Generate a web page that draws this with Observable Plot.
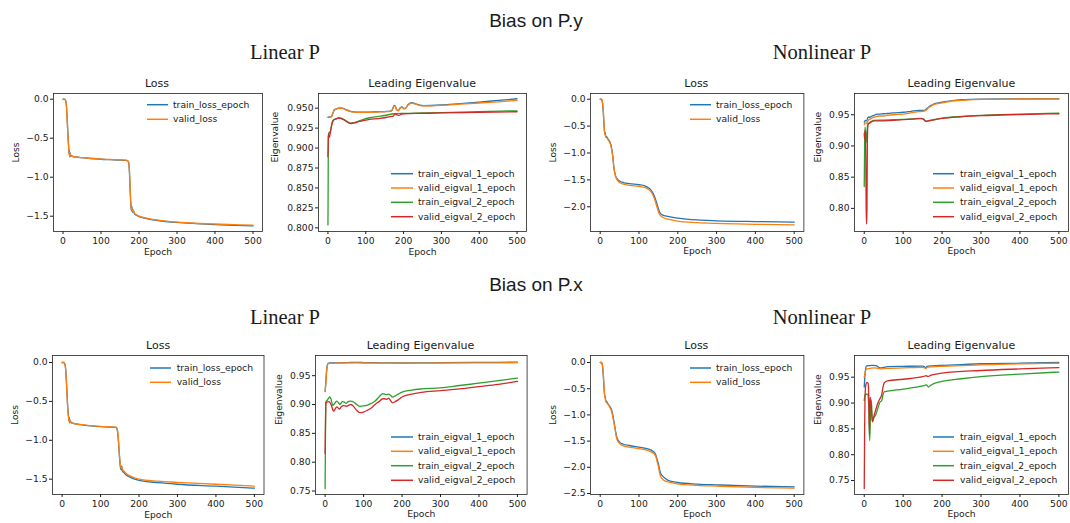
<!DOCTYPE html>
<html><head><meta charset="utf-8">
<script src="https://cdn.jsdelivr.net/npm/d3@7"></script>
<script src="https://cdn.jsdelivr.net/npm/@observablehq/plot@0.6"></script>
<style>
body{margin:0;background:#fff;}
#root{position:relative;width:1070px;height:523px;overflow:hidden;font-family:"DejaVu Sans",sans-serif;color:#1a1a1a;}
.abs{position:absolute;white-space:nowrap;}
.ctr{transform:translate(-50%,-50%);line-height:1;}
.main{font-family:"Liberation Sans",Arial,sans-serif;font-size:19px;}
.sub{font-family:"Liberation Serif",serif;font-size:20.5px;}
.ptitle{font-size:11px;}
.leg{font-size:9.2px;line-height:1;}
</style></head>
<body><div id="root"></div>
<script>
// ---------- data ----------
const xTicks = [0, 100, 200, 300, 400, 500];
const lossLegend = ["train_loss_epoch", "valid_loss"];
const eigLegend = ["train_eigval_1_epoch", "valid_eigval_1_epoch", "train_eigval_2_epoch", "valid_eigval_2_epoch"];
const colors = ["#1f77b4", "#ff7f0e", "#2ca02c", "#d62728"];

// Bias on P.y — Linear P — Loss
const p1Train = [[0,0],[4,0],[7,-0.02],[9,-0.08],[11,-0.25],[13,-0.45],[15,-0.62],[16,-0.7],[17,-0.66],[18,-0.74],[19,-0.69],[20,-0.73],[22,-0.72],[26,-0.735],[35,-0.74],[50,-0.75],[75,-0.76],[100,-0.77],[125,-0.775],[150,-0.78],[165,-0.785],[170,-0.79],[173,-0.82],[175,-0.95],[177,-1.2],[179,-1.38],[180,-1.43],[181,-1.37],[183,-1.45],[185,-1.42],[188,-1.47],[194,-1.49],[200,-1.505],[220,-1.53],[250,-1.555],[300,-1.58],[350,-1.595],[400,-1.607],[450,-1.617],[500,-1.625]];
const p1Valid = [[0,0],[4,0],[7,-0.02],[9,-0.09],[11,-0.27],[13,-0.47],[15,-0.63],[16,-0.71],[17,-0.68],[18,-0.73],[19,-0.7],[20,-0.72],[22,-0.73],[26,-0.735],[35,-0.74],[50,-0.75],[75,-0.76],[100,-0.768],[125,-0.773],[150,-0.778],[165,-0.782],[170,-0.788],[173,-0.81],[175,-0.93],[177,-1.18],[179,-1.36],[180,-1.42],[181,-1.39],[183,-1.44],[185,-1.43],[188,-1.46],[194,-1.485],[200,-1.5],[220,-1.525],[250,-1.55],[300,-1.575],[350,-1.59],[400,-1.6],[450,-1.608],[500,-1.615]];
const p1YTicks = [0, -0.5, -1, -1.5];

// Bias on P.y — Linear P — Leading Eigenvalue
const p2Train1 = [[0,0.9387],[5,0.939],[9,0.9395],[13,0.944],[17,0.948],[22,0.949],[30,0.9505],[38,0.95],[48,0.948],[60,0.946],[75,0.945],[100,0.945],[130,0.9455],[150,0.9458],[165,0.9462],[170,0.948],[175,0.9535],[178,0.9525],[182,0.948],[186,0.947],[191,0.9505],[196,0.9515],[201,0.9495],[205,0.95],[212,0.9545],[222,0.9568],[232,0.9555],[243,0.9538],[253,0.9532],[300,0.954],[350,0.9558],[400,0.9576],[450,0.9597],[500,0.9618]];
const p2Valid1 = [[0,0.9385],[5,0.9388],[9,0.9393],[13,0.9435],[17,0.9475],[22,0.9488],[30,0.9502],[38,0.9498],[48,0.9478],[60,0.9458],[75,0.9448],[100,0.9448],[130,0.9452],[150,0.9455],[165,0.946],[170,0.9478],[175,0.953],[178,0.952],[182,0.9478],[186,0.9468],[191,0.95],[196,0.951],[201,0.9492],[205,0.9498],[212,0.954],[222,0.9563],[232,0.955],[243,0.9533],[253,0.9528],[300,0.9535],[350,0.955],[400,0.9565],[450,0.958],[500,0.9597]];
const p2Train2 = [[0,0.8037],[0.5,0.85],[1,0.915],[3,0.92],[5,0.919],[8,0.925],[11,0.932],[15,0.9355],[22,0.937],[28,0.938],[35,0.9375],[45,0.935],[55,0.932],[61,0.9312],[70,0.932],[80,0.9335],[94,0.936],[110,0.938],[130,0.9395],[150,0.9408],[175,0.943],[200,0.9435],[250,0.944],[300,0.9445],[400,0.9457],[500,0.9467]];
const p2Valid2 = [[0,0.889],[1,0.912],[2,0.917],[3,0.913],[5,0.916],[8,0.924],[11,0.931],[15,0.935],[22,0.9365],[28,0.9375],[35,0.937],[45,0.9345],[55,0.9315],[61,0.9308],[70,0.9315],[80,0.933],[94,0.9345],[110,0.936],[130,0.937],[150,0.938],[165,0.9395],[172,0.94],[178,0.9428],[182,0.9415],[187,0.941],[195,0.9425],[200,0.943],[250,0.9435],[300,0.944],[400,0.9447],[500,0.9455]];
const p2YTicks = [0.8, 0.825, 0.85, 0.875, 0.9, 0.925, 0.95];

// Bias on P.y — Nonlinear P — Loss
const p3Train = [[0,0],[3,0],[5,-0.03],[8,-0.25],[10,-0.5],[11,-0.6],[12,-0.64],[13,-0.62],[14,-0.68],[17,-0.7],[20,-0.735],[24,-0.78],[28,-0.86],[31,-0.98],[33,-1.1],[35,-1.26],[38,-1.38],[41,-1.45],[45,-1.49],[50,-1.52],[60,-1.55],[75,-1.57],[100,-1.59],[115,-1.61],[125,-1.65],[132,-1.7],[137,-1.76],[142,-1.85],[147,-1.96],[151,-2.06],[155,-2.12],[160,-2.15],[175,-2.18],[200,-2.21],[250,-2.245],[300,-2.26],[400,-2.275],[500,-2.285]];
const p3Valid = [[0,0],[3,0],[5,-0.02],[8,-0.22],[10,-0.48],[11,-0.58],[12,-0.66],[13,-0.65],[14,-0.7],[17,-0.72],[20,-0.75],[24,-0.8],[28,-0.88],[31,-1.0],[33,-1.12],[36,-1.3],[39,-1.42],[42,-1.48],[46,-1.52],[50,-1.55],[60,-1.58],[75,-1.6],[100,-1.62],[115,-1.64],[125,-1.68],[132,-1.73],[137,-1.8],[142,-1.9],[147,-2.02],[151,-2.11],[155,-2.16],[160,-2.19],[175,-2.23],[200,-2.265],[250,-2.295],[300,-2.31],[400,-2.325],[500,-2.335]];
const p3YTicks = [0, -0.5, -1, -1.5, -2];

// Bias on P.y — Nonlinear P — Leading Eigenvalue
const p4Train1 = [[0,0.938],[3,0.941],[6,0.94],[10,0.946],[15,0.946],[20,0.948],[25,0.949],[30,0.9505],[40,0.951],[50,0.9516],[60,0.952],[75,0.953],[100,0.954],[120,0.9555],[140,0.957],[150,0.9568],[155,0.957],[160,0.9595],[165,0.962],[172,0.965],[180,0.9676],[190,0.969],[200,0.97],[225,0.9725],[250,0.974],[300,0.975],[400,0.9755],[500,0.9756]];
const p4Valid1 = [[0,0.934],[3,0.937],[6,0.936],[10,0.941],[15,0.943],[20,0.945],[25,0.946],[30,0.947],[40,0.948],[50,0.948],[60,0.949],[75,0.95],[100,0.951],[120,0.953],[140,0.955],[150,0.9555],[155,0.956],[160,0.958],[165,0.961],[172,0.964],[180,0.9665],[190,0.968],[200,0.969],[225,0.972],[250,0.973],[300,0.9745],[400,0.9752],[500,0.9755]];
const p4Train2 = [[0,0.835],[1,0.9],[2,0.93],[3,0.925],[5,0.92],[7,0.905],[8,0.93],[10,0.9356],[15,0.938],[25,0.941],[50,0.9414],[75,0.942],[100,0.9425],[125,0.9435],[145,0.944],[150,0.9438],[155,0.9415],[158,0.9398],[165,0.9405],[175,0.9418],[200,0.9446],[250,0.9473],[300,0.949],[400,0.951],[500,0.9526]];
const p4Valid2 = [[0,0.92],[1,0.91],[2,0.925],[3,0.915],[4,0.88],[5,0.8],[6,0.775],[7,0.8],[8,0.9],[9,0.93],[10,0.935],[15,0.937],[25,0.94],[50,0.9403],[75,0.941],[100,0.942],[125,0.943],[145,0.9438],[150,0.9435],[155,0.941],[158,0.9393],[165,0.94],[175,0.9412],[200,0.944],[250,0.9467],[300,0.9485],[400,0.9503],[500,0.9516]];
const p4YTicks = [0.8, 0.85, 0.9, 0.95];

// Bias on P.x — Linear P — Loss
const p5Train = [[0,0],[4,0],[7,-0.02],[9,-0.07],[11,-0.22],[13,-0.42],[15,-0.6],[17,-0.7],[18,-0.76],[19,-0.71],[20,-0.78],[21,-0.74],[23,-0.77],[27,-0.78],[35,-0.79],[50,-0.8],[75,-0.815],[100,-0.825],[125,-0.83],[140,-0.835],[143,-0.86],[146,-0.98],[149,-1.2],[152,-1.36],[154,-1.38],[155,-1.33],[157,-1.4],[160,-1.41],[165,-1.44],[175,-1.47],[200,-1.515],[250,-1.545],[300,-1.565],[400,-1.59],[500,-1.616]];
const p5Valid = [[0,0],[4,0],[7,-0.02],[9,-0.08],[11,-0.24],[13,-0.44],[15,-0.62],[17,-0.72],[18,-0.75],[19,-0.73],[20,-0.77],[21,-0.75],[23,-0.77],[27,-0.78],[35,-0.79],[50,-0.8],[75,-0.812],[100,-0.822],[125,-0.828],[140,-0.832],[143,-0.85],[146,-0.96],[149,-1.18],[152,-1.34],[154,-1.36],[155,-1.35],[157,-1.38],[160,-1.39],[165,-1.42],[175,-1.455],[200,-1.5],[250,-1.525],[300,-1.54],[400,-1.565],[500,-1.59]];
const p5YTicks = [0, -0.5, -1, -1.5];

// Bias on P.x — Linear P — Leading Eigenvalue
const p6Train1 = [[0,0.9228],[2,0.94],[4,0.96],[6,0.969],[8,0.9715],[12,0.9722],[20,0.9722],[40,0.9725],[60,0.9728],[80,0.973],[100,0.9728],[150,0.9722],[200,0.972],[250,0.9722],[300,0.9725],[400,0.973],[500,0.9735]];
const p6Valid1 = [[0,0.9222],[2,0.938],[4,0.958],[6,0.968],[8,0.971],[12,0.9715],[20,0.9715],[40,0.972],[60,0.9722],[80,0.9722],[100,0.972],[150,0.9718],[200,0.9717],[250,0.9718],[300,0.972],[400,0.9722],[500,0.9725]];
const p6Train2 = [[0,0.754],[1,0.86],[2,0.905],[5,0.907],[9,0.911],[12,0.913],[15,0.91],[20,0.8985],[25,0.902],[30,0.906],[35,0.903],[38,0.9],[45,0.905],[50,0.904],[55,0.902],[60,0.905],[65,0.906],[75,0.904],[82,0.9],[90,0.8968],[100,0.8975],[110,0.899],[120,0.902],[130,0.906],[140,0.913],[150,0.9188],[155,0.918],[160,0.917],[165,0.918],[170,0.916],[175,0.913],[182,0.915],[190,0.918],[200,0.9216],[225,0.925],[250,0.927],[300,0.929],[350,0.933],[400,0.937],[450,0.9415],[500,0.9459]];
const p6Valid2 = [[0,0.815],[1,0.87],[2,0.903],[5,0.904],[9,0.905],[12,0.904],[16,0.899],[22,0.8887],[26,0.892],[30,0.896],[34,0.894],[37,0.892],[42,0.896],[48,0.898],[55,0.897],[62,0.899],[67,0.9],[75,0.896],[82,0.89],[90,0.8859],[100,0.887],[110,0.89],[120,0.894],[130,0.9],[140,0.905],[150,0.91],[155,0.91],[160,0.909],[165,0.911],[170,0.907],[175,0.903],[182,0.905],[190,0.908],[200,0.913],[225,0.918],[250,0.921],[300,0.924],[350,0.927],[400,0.931],[450,0.935],[500,0.94]];
const p6YTicks = [0.75, 0.8, 0.85, 0.9, 0.95];

// Bias on P.x — Nonlinear P — Loss
const p7Train = [[0,0],[3,0],[5,-0.03],[8,-0.25],[10,-0.5],[11,-0.6],[12,-0.66],[13,-0.64],[14,-0.72],[17,-0.75],[20,-0.79],[25,-0.84],[30,-0.92],[33,-1.02],[35,-1.11],[38,-1.24],[40,-1.33],[43,-1.43],[47,-1.49],[50,-1.52],[60,-1.56],[75,-1.584],[100,-1.616],[125,-1.655],[135,-1.69],[140,-1.72],[144,-1.78],[147,-1.86],[150,-1.93],[153,-2.04],[156,-2.12],[160,-2.16],[167,-2.21],[175,-2.25],[200,-2.29],[250,-2.32],[300,-2.335],[400,-2.36],[500,-2.372]];
const p7Valid = [[0,0],[3,0],[5,-0.02],[8,-0.22],[10,-0.48],[11,-0.58],[12,-0.68],[13,-0.67],[14,-0.74],[17,-0.77],[20,-0.8],[25,-0.86],[30,-0.95],[33,-1.06],[36,-1.17],[39,-1.3],[41,-1.4],[44,-1.48],[48,-1.53],[52,-1.56],[60,-1.59],[75,-1.615],[100,-1.645],[125,-1.685],[135,-1.72],[140,-1.75],[144,-1.81],[147,-1.9],[150,-1.98],[153,-2.1],[156,-2.18],[160,-2.22],[167,-2.26],[175,-2.28],[200,-2.315],[250,-2.345],[300,-2.36],[400,-2.385],[500,-2.398]];
const p7YTicks = [0, -0.5, -1, -1.5, -2, -2.5];

// Bias on P.x — Nonlinear P — Leading Eigenvalue
const p8Train1 = [[0,0.931],[2,0.955],[4,0.968],[6,0.972],[15,0.9725],[25,0.973],[32,0.972],[38,0.969],[42,0.968],[50,0.969],[60,0.9705],[100,0.971],[150,0.9715],[155,0.97],[158,0.9675],[161,0.971],[175,0.972],[200,0.973],[250,0.9745],[300,0.976],[400,0.977],[500,0.9785]];
const p8Valid1 = [[0,0.95],[2,0.958],[4,0.964],[6,0.966],[15,0.967],[25,0.968],[32,0.9675],[38,0.9665],[45,0.966],[55,0.967],[100,0.968],[150,0.969],[155,0.968],[158,0.9665],[161,0.969],[175,0.97],[200,0.971],[250,0.9725],[300,0.974],[400,0.976],[500,0.977]];
const p8Train2 = [[0,0.905],[2,0.915],[4,0.917],[8,0.917],[10,0.915],[12,0.88],[14,0.8275],[16,0.88],[17,0.905],[19,0.895],[21,0.864],[25,0.872],[30,0.878],[35,0.89],[40,0.901],[45,0.905],[48,0.915],[52,0.922],[60,0.923],[100,0.927],[150,0.933],[160,0.935],[165,0.931],[170,0.934],[200,0.942],[250,0.947],[300,0.951],[400,0.956],[500,0.96]];
const p8Valid2 = [[0,0.7345],[1,0.85],[2,0.91],[4,0.935],[7,0.94],[10,0.938],[12,0.9],[13.5,0.8396],[15,0.911],[17,0.905],[19,0.88],[21,0.8636],[25,0.875],[30,0.888],[35,0.9],[40,0.908],[45,0.916],[48,0.93],[52,0.9397],[60,0.943],[100,0.946],[150,0.951],[160,0.953],[163,0.951],[170,0.9535],[200,0.958],[300,0.963],[400,0.966],[500,0.9685]];
const p8YTicks = [0.75, 0.8, 0.85, 0.9, 0.95];

// ---------- layout ----------
const root = document.getElementById("root");
function addText(cls, txt, cx, cy) {
  const d = document.createElement("div");
  d.className = "abs ctr " + cls;
  d.textContent = txt;
  d.style.left = cx + "px"; d.style.top = cy + "px";
  root.appendChild(d);
}
addText("main", "Bias on P.y", 536, 20);
addText("sub", "Linear P", 285, 52);
addText("sub", "Nonlinear P", 822, 52);
addText("main", "Bias on P.x", 536, 284);
addText("sub", "Linear P", 285, 317);
addText("sub", "Nonlinear P", 822, 317);

const panels = [
  {frame:[52.5,93,261.5,231], title:"Loss", ylabel:"Loss", yoff:37.5, yDomain:[-1.696,0.073], yTicks:p1YTicks, fmt:".1f", series:[p1Train,p1Valid], labels:lossLegend, leg:{x1:147,x2:168,tx:173,ys:[104.7,119.3]}},
  {frame:[318.2,93,526.2,231], title:"Leading Eigenvalue", ylabel:"Eigenvalue", yoff:43.2, yDomain:[0.7954,0.9684], yTicks:p2YTicks, fmt:".3f", series:[p2Train1,p2Valid1,p2Train2,p2Valid2], labels:eigLegend, leg:{x1:391,x2:413,tx:418,ys:[173.7,188,202.3,216.7]}},
  {frame:[589.6,93,803,231], title:"Loss", ylabel:"Loss", yoff:37.9, yDomain:[-2.459,0.106], yTicks:p3YTicks, fmt:".1f", series:[p3Train,p3Valid], labels:lossLegend, leg:{x1:690,x2:711,tx:716,ys:[104.7,119.3]}},
  {frame:[854.3,93,1068.4,231], title:"Leading Eigenvalue", ylabel:"Eigenvalue", yoff:36.3, yDomain:[0.763,0.984], yTicks:p4YTicks, fmt:".2f", series:[p4Train1,p4Valid1,p4Train2,p4Valid2], labels:eigLegend, leg:{x1:933,x2:954,tx:960,ys:[173.7,188,202.3,216.7]}},
  {frame:[52.4,355,263.9,494], title:"Loss", ylabel:"Loss", yoff:37.4, yDomain:[-1.697,0.09], yTicks:p5YTicks, fmt:".1f", series:[p5Train,p5Valid], labels:lossLegend, leg:{x1:150,x2:171,tx:176.7,ys:[368,382.3]}},
  {frame:[314.7,355,526.3,494], title:"Leading Eigenvalue", ylabel:"Eigenvalue", yoff:36.4, yDomain:[0.744,0.985], yTicks:p6YTicks, fmt:".2f", series:[p6Train1,p6Valid1,p6Train2,p6Valid2], labels:eigLegend, leg:{x1:391,x2:413,tx:418,ys:[437,451.3,465.7,480.3]}},
  {frame:[589.6,355,803,494], title:"Loss", ylabel:"Loss", yoff:37.9, yDomain:[-2.519,0.134], yTicks:p7YTicks, fmt:".1f", series:[p7Train,p7Valid], labels:lossLegend, leg:{x1:690,x2:711,tx:716,ys:[368,382.3]}},
  {frame:[854.3,355,1068.4,494], title:"Leading Eigenvalue", ylabel:"Eigenvalue", yoff:36, yDomain:[0.723,0.992], yTicks:p8YTicks, fmt:".2f", series:[p8Train1,p8Valid1,p8Train2,p8Valid2], labels:eigLegend, leg:{x1:933,x2:954,tx:960,ys:[437,451.3,465.7,480.3]}}
];

const ML = 60, MR = 2, MT = 5, MB = 29;
const FS = 9.2;
for (const p of panels) {
  const [L, T, R, B] = p.frame;
  const chart = Plot.plot({
    width: R - L + ML + MR,
    height: B - T + MT + MB,
    marginLeft: ML, marginRight: MR, marginTop: MT, marginBottom: MB,
    style: {fontFamily: "DejaVu Sans, sans-serif", fontSize: FS + "px", color: "#1a1a1a", background: "transparent", overflow: "visible"},
    x: {domain: [-25, 525]},
    y: {domain: p.yDomain},
    marks: [
      Plot.axisX({ticks: xTicks, tickSize: 3, tickPadding: 2.5, tickFormat: d3.format("d"), label: null}),
      Plot.axisY({ticks: p.yTicks, tickSize: 3, tickPadding: 2, tickFormat: d3.format(p.fmt), label: null}),
      ...p.series.map((s, i) => Plot.line(s, {x: d => d[0], y: d => d[1], stroke: colors[i], strokeWidth: 1.3, curve: "monotone-x"})),
      Plot.frame({stroke: "#222", strokeWidth: 0.8}),
      Plot.text([p.ylabel], {text: d => d, frameAnchor: "left", dx: -p.yoff, rotate: -90, fontSize: FS}),
      Plot.text(["Epoch"], {text: d => d, frameAnchor: "bottom", dy: 23, fontSize: FS})
    ]
  });
  chart.style.position = "absolute";
  chart.style.left = (L - ML) + "px";
  chart.style.top = (T - MT) + "px";
  root.appendChild(chart);
  addText("ptitle", p.title, (L + R) / 2, T - 10);
  // legend
  const ys = p.leg.ys;
  const svgNS = "http://www.w3.org/2000/svg";
  const sw = document.createElementNS(svgNS, "svg");
  sw.setAttribute("width", 1070); sw.setAttribute("height", 523);
  sw.style.position = "absolute"; sw.style.left = "0px"; sw.style.top = "0px"; sw.style.pointerEvents = "none";
  p.labels.forEach((lab, i) => {
    const ln = document.createElementNS(svgNS, "line");
    ln.setAttribute("x1", p.leg.x1); ln.setAttribute("x2", p.leg.x2);
    ln.setAttribute("y1", ys[i]); ln.setAttribute("y2", ys[i]);
    ln.setAttribute("stroke", colors[i]); ln.setAttribute("stroke-width", 1.5);
    sw.appendChild(ln);
    const t = document.createElement("div");
    t.className = "abs leg";
    t.textContent = lab;
    t.style.left = p.leg.tx + "px"; t.style.top = ys[i] + "px";
    t.style.transform = "translateY(-50%)";
    root.appendChild(t);
  });
  root.appendChild(sw);
}
</script>
</body></html>
